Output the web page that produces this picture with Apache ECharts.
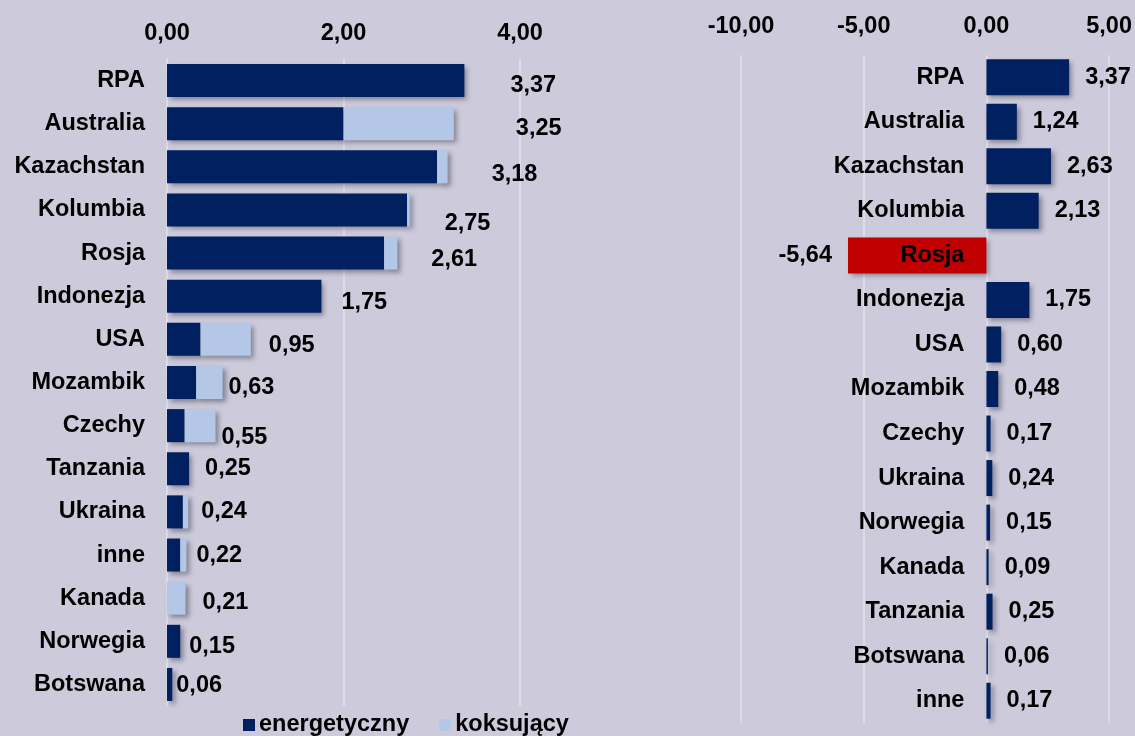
<!DOCTYPE html>
<html>
<head>
<meta charset="utf-8">
<title>Węgiel</title>
<script src="https://cdn.jsdelivr.net/npm/echarts@6/dist/echarts.min.js"></script>
<style>
  html, body { margin: 0; padding: 0; background: #cdcbdb; }
  #chart { width: 1135px; height: 736px; }
</style>
</head>
<body>
<div id="chart"></div>
<script>
// lewy wykres: import wg rodzaju wegla
const leftCountries = ['RPA', 'Australia', 'Kazachstan', 'Kolumbia', 'Rosja', 'Indonezja', 'USA',
  'Mozambik', 'Czechy', 'Tanzania', 'Ukraina', 'inne', 'Kanada', 'Norwegia', 'Botswana']
const energetyczny = [3.37, 2.00, 3.06, 2.72, 2.46, 1.75, 0.38, 0.33, 0.20, 0.25, 0.18, 0.15, 0.00, 0.15, 0.06]
const koksujacy = [0.00, 1.25, 0.12, 0.03, 0.15, 0.00, 0.57, 0.30, 0.35, 0.00, 0.06, 0.07, 0.21, 0.00, 0.00]
const leftTicks = [0, 2, 4]

// prawy wykres: zmiana
const rightCountries = ['RPA', 'Australia', 'Kazachstan', 'Kolumbia', 'Rosja', 'Indonezja', 'USA',
  'Mozambik', 'Czechy', 'Ukraina', 'Norwegia', 'Kanada', 'Tanzania', 'Botswana', 'inne']
const rightValues = [3.37, 1.24, 2.63, 2.13, -5.64, 1.75, 0.60, 0.48, 0.17, 0.24, 0.15, 0.09, 0.25, 0.06, 0.17]
const rightTicks = [-10, -5, 0, 5]

// przesuniecia etykiet sum (px) jak w oryginale
const sumLabelShift = [[40, 5], [56, 5], [38, 8], [29, 14], [28, 6], [14, 6], [12, 6], [0, 5],
  [0, 12], [10, 0], [7, 0], [4, 0], [11, 4], [3, 5], [-2, 1]]

const navy = '#002060'
const light = '#b4c7e7'
const red = '#c00000'
const fmt = v => v.toFixed(2).replace('.', ',')
const font = { fontFamily: 'Liberation Sans, Arial, sans-serif', fontWeight: 'bold', color: '#000', fontSize: 23.5 }
const shadow = { shadowColor: 'rgba(40,40,60,0.45)', shadowBlur: 5, shadowOffsetX: 3, shadowOffsetY: 3 }
const rightGridLeft = 741

let totals = energetyczny.map((v, i) => Math.round((v + koksujacy[i]) * 100) / 100)

let myChart = echarts.init(document.getElementById('chart'))
myChart.setOption({
  backgroundColor: '#cdcbdb',
  animation: false,
  grid: [
    { left: 167, right: 615, top: 59, bottom: 30 },
    { left: rightGridLeft, right: 25, top: 55, bottom: 13 },
  ],
  xAxis: [
    {
      gridIndex: 0, type: 'value', position: 'top', min: leftTicks[0], max: leftTicks[leftTicks.length - 1], interval: 2,
      axisLine: { show: false }, axisTick: { show: false },
      splitLine: { lineStyle: { color: '#dcdce4', width: 2 } },
      axisLabel: { ...font, margin: 13, formatter: fmt },
    },
    {
      gridIndex: 1, type: 'value', position: 'top', min: rightTicks[0], max: rightTicks[rightTicks.length - 1], interval: 5,
      axisLine: { show: false }, axisTick: { show: false },
      splitLine: { lineStyle: { color: '#dcdce4', width: 2 } },
      axisLabel: { ...font, margin: 16, formatter: fmt },
    },
  ],
  yAxis: [
    {
      gridIndex: 0, type: 'category', data: leftCountries, inverse: true,
      axisLine: { lineStyle: { color: '#dcdce4', width: 2 } }, axisTick: { show: false },
      axisLabel: { ...font, margin: 22 },
    },
    {
      gridIndex: 1, type: 'category', data: rightCountries, inverse: true, z: 10,
      axisLine: { show: false, onZero: false }, axisTick: { show: false },
      axisLabel: { ...font, margin: 22 },
    },
  ],
  legend: {
    left: 243, top: 713, padding: 0, itemWidth: 12, itemHeight: 12, itemGap: 30,
    icon: 'rect', textStyle: { ...font, padding: [0, 0, 0, -1] },
    data: ['energetyczny', 'koksujący'],
  },
  series: [
    {
      name: 'energetyczny', type: 'bar', stack: 'l', xAxisIndex: 0, yAxisIndex: 0,
      barWidth: 33, data: energetyczny, itemStyle: { color: navy, ...shadow },
    },
    {
      name: 'koksujący', type: 'bar', stack: 'l', xAxisIndex: 0, yAxisIndex: 0,
      barWidth: 33, data: koksujacy, itemStyle: { color: light, ...shadow },
    },
    {
      // etykiety sum
      name: 'suma', type: 'scatter', xAxisIndex: 0, yAxisIndex: 0, symbolSize: 0, silent: true,
      itemStyle: { opacity: 1 },
      data: totals.map((t, i) => ({
        value: [t, leftCountries[i]],
        label: { offset: sumLabelShift[i] },
      })),
      label: { show: true, position: 'right', distance: 6, ...font, formatter: p => fmt(p.value[0]) },
    },
    {
      name: 'zmiana', type: 'bar', xAxisIndex: 1, yAxisIndex: 1, barWidth: 36,
      data: rightValues.map(v => ({
        value: v,
        itemStyle: { color: v < 0 ? red : navy },
        label: { position: v < 0 ? 'left' : 'right' },
      })),
      itemStyle: { ...shadow },
      label: { show: true, distance: 16, ...font, formatter: p => fmt(p.value) },
    },
  ],
})

// nazwy krajow po prawej przy linii zera
let zeroX = myChart.convertToPixel({ xAxisIndex: 1 }, 0)
myChart.setOption({
  yAxis: [{}, { axisLabel: { margin: 22 - (zeroX - rightGridLeft) } }],
})
</script>
</body>
</html>
